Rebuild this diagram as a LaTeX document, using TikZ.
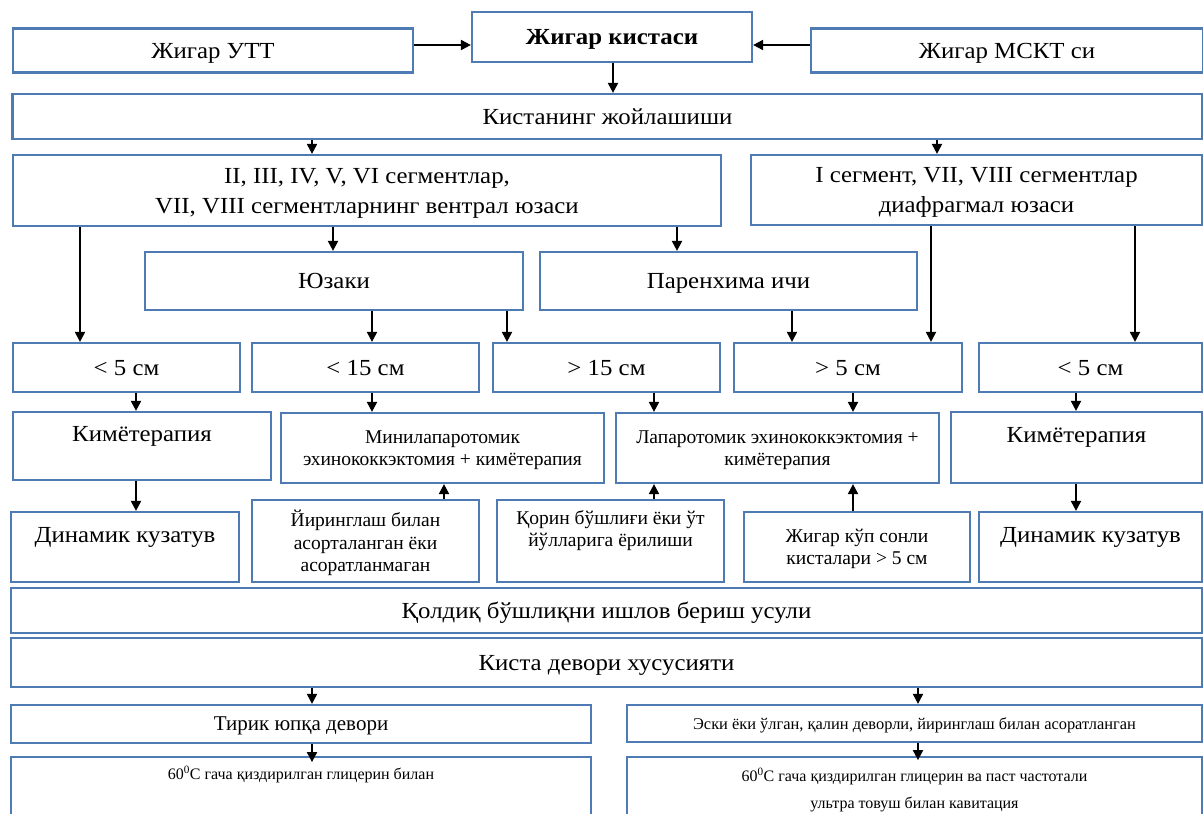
\documentclass[tikz,border=0pt]{standalone}
\usepackage{fontspec}
\setmainfont{Liberation Serif}
\newfontfamily\widefam{Liberation Serif}[FakeStretch=1.08]
\usetikzlibrary{arrows.meta}
\definecolor{boxblue}{RGB}{79,123,180}
\newcommand\bigfont{\widefam\fontsize{23}{30}\selectfont}
\newcommand\midfont{\fontsize{19.5}{22.5}\selectfont}
\newcommand\smlfont{\fontsize{16}{27}\selectfont}
\tikzset{
  blk/.style={draw=boxblue, line width=2.2pt, inner sep=0pt, align=center, font=\bigfont, text depth=0pt},
  arr/.style={-{Triangle[length=10pt,width=10pt]}, line width=2pt},
  raised/.style={text depth=#1},
}

\begin{document}
\begin{tikzpicture}[x=1pt, y=-1pt]
\useasboundingbox (0,0) rectangle (1203,814);
\clip (0,0) rectangle (1203,814);
% top
\node[blk, minimum width=400, minimum height=44] (utt) at (213,50.5) {Жигар УТТ};
\node[blk, minimum width=280, minimum height=50] (kist) at (612,37) {\textbf{Жигар кистаси}};
\node[blk, minimum width=392, minimum height=44] (mskt) at (1007,50.5) {Жигар МСКТ си};
\node[blk, minimum width=1190, minimum height=45] (joy) at (607.5,116.5) {Кистанинг жойлашиши};
% segments
\node[blk, minimum width=708, minimum height=71] (segL) at (367,190.5) {II, III, IV, V, VI сегментлар,\\VII, VIII сегментларнинг вентрал юзаси};
\node[blk, minimum width=451, minimum height=70] (segR) at (976.5,190) {I сегмент, VII, VIII сегментлар\\диафрагмал юзаси};
\node[blk, minimum width=378, minimum height=58] (yuz) at (334,281) {Юзаки};
\node[blk, minimum width=377, minimum height=58] (par) at (728.5,281) {Паренхима ичи};
% sizes
\node[blk, minimum width=227, minimum height=49] (lt5a) at (126.5,367.5) {< 5 см};
\node[blk, minimum width=227, minimum height=49] (lt15) at (365.5,367.5) {< 15 см};
\node[blk, minimum width=227, minimum height=49] (gt15) at (606.5,367.5) {> 15 см};
\node[blk, minimum width=228, minimum height=49] (gt5) at (848,367.5) {> 5 см};
\node[blk, minimum width=223, minimum height=49] (lt5b) at (1090.5,367.5) {< 5 см};
% treatment
\node[blk, raised=25pt, minimum width=258, minimum height=68] (kimA) at (142,446) {Кимётерапия};
\node[blk, font=\midfont, minimum width=323, minimum height=70] (mini) at (442.5,448) {Минилапаротомик\\эхинококкэктомия + кимётерапия};
\node[blk, font=\midfont, minimum width=323, minimum height=70] (lapa) at (777.5,448) {Лапаротомик эхинококкэктомия +\\кимётерапия};
\node[blk, raised=25pt, minimum width=251, minimum height=71] (kimB) at (1076.5,447.5) {Кимётерапия};
\node[blk, raised=25pt, minimum width=228, minimum height=70] (dinA) at (125,547) {Динамик кузатув};
\node[blk, font=\midfont, minimum width=227, minimum height=82] (yir) at (365.5,541) {Йиринглаш билан\\асорталанган ёки\\асоратланмаган};
\node[blk, font=\midfont, raised=25pt, minimum width=227, minimum height=82] (qor) at (610.5,541) {Қорин бўшлиғи ёки ўт\\йўлларига ёрилиши};
\node[blk, font=\midfont, minimum width=226, minimum height=70] (jkup) at (857,547) {Жигар кўп сонли\\кисталари > 5 см};
\node[blk, raised=25pt, minimum width=223, minimum height=70] (dinB) at (1090.5,547) {Динамик кузатув};
% cavity
\node[blk, minimum width=1191, minimum height=45] (qol) at (606.5,610.5) {Қолдиқ бўшлиқни ишлов бериш усули};
\node[blk, minimum width=1191, minimum height=49] (kdev) at (606.5,662.5) {Киста девори хусусияти};
\node[blk, font=\fontsize{21}{24}\selectfont, minimum width=580, minimum height=38] (tirik) at (301,724) {Тирик юпқа девори};
\node[blk, font=\fontsize{16.4}{27}\selectfont, minimum width=575, minimum height=37] (eski) at (914.5,723.5) {Эски ёки ўлган, қалин деворли, йиринглаш билан асоратланган};
\node[blk, font=\smlfont, raised=31pt, minimum width=580, minimum height=63] (gliA) at (301,788.5) {60\textsuperscript{0}C гача қиздирилган глицерин билан};
\node[blk, font=\smlfont, minimum width=575, minimum height=63] (gliB) at (914.5,788.5) {60\textsuperscript{0}C гача қиздирилган глицерин ва паст частотали\\ультра товуш билан кавитация};
% arrows
\draw[arr] (utt.east |- 0,45) -- (kist.west |- 0,45);
\draw[arr] (mskt.west |- 0,45) -- (kist.east |- 0,45);
\draw[arr] (kist.south -| 613,0) -- (joy.north -| 613,0);
\draw[arr] (joy.south -| 312,0) -- (segL.north -| 312,0);
\draw[arr] (joy.south -| 937,0) -- (segR.north -| 937,0);
\draw[arr] (segL.south -| 80,0) -- (lt5a.north -| 80,0);
\draw[arr] (segL.south -| 333,0) -- (yuz.north -| 333,0);
\draw[arr] (segL.south -| 677,0) -- (par.north -| 677,0);
\draw[arr] (segR.south -| 931,0) -- (gt5.north -| 931,0);
\draw[arr] (segR.south -| 1135,0) -- (lt5b.north -| 1135,0);
\draw[arr] (yuz.south -| 372,0) -- (lt15.north -| 372,0);
\draw[arr] (yuz.south -| 507,0) -- (gt15.north -| 507,0);
\draw[arr] (par.south -| 792,0) -- (gt5.north -| 792,0);
\draw[arr] (lt5a.south -| 136,0) -- (kimA.north -| 136,0);
\draw[arr] (lt15.south -| 372,0) -- (mini.north -| 372,0);
\draw[arr] (gt15.south -| 654,0) -- (lapa.north -| 654,0);
\draw[arr] (gt5.south -| 853,0) -- (lapa.north -| 853,0);
\draw[arr] (lt5b.south -| 1076,0) -- (kimB.north -| 1076,0);
\draw[arr] (kimA.south -| 136,0) -- (dinA.north -| 136,0);
\draw[arr] (kimB.south -| 1076,0) -- (dinB.north -| 1076,0);
\draw[arr] (yir.north -| 444,0) -- (mini.south -| 444,0);
\draw[arr] (qor.north -| 654,0) -- (lapa.south -| 654,0);
\draw[arr] (jkup.north -| 853,0) -- (lapa.south -| 853,0);
\draw[arr] (kdev.south -| 312,0) -- (tirik.north -| 312,0);
\draw[arr] (kdev.south -| 918,0) -- (eski.north -| 918,0);
\draw[arr] (tirik.south -| 312,0) -- ++(0,18);
\draw[arr] (eski.south -| 918,0) -- ++(0,17);
\end{tikzpicture}
\end{document}
